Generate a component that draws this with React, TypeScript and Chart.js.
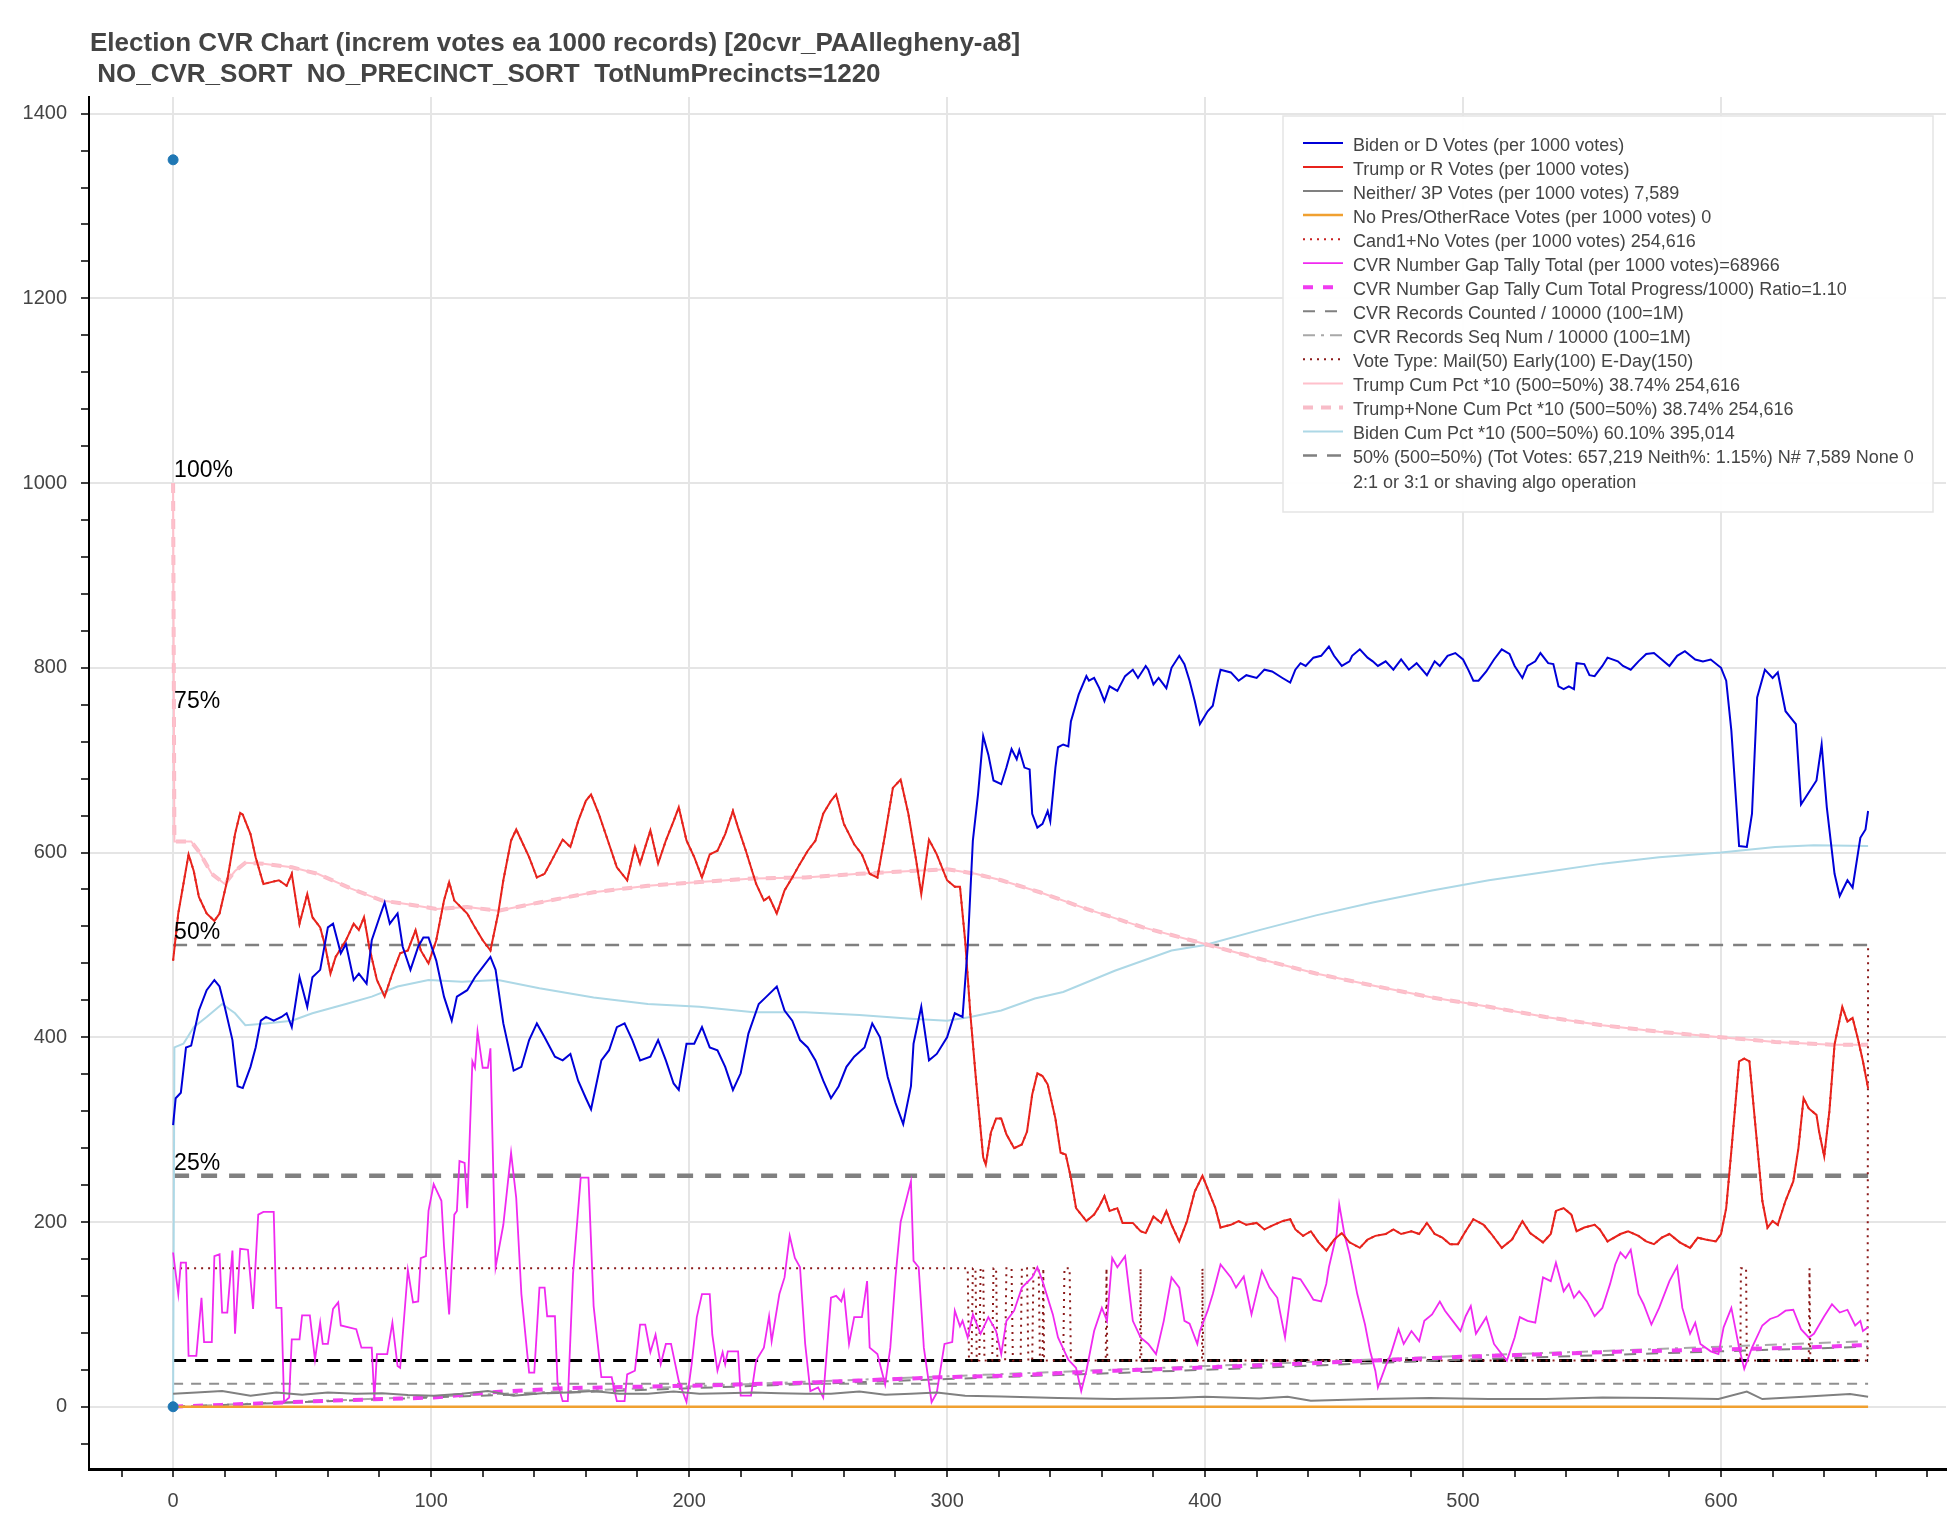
import React, { useEffect, useRef } from "react";
import Chart from "chart.js/auto";

type Pt = [number, number];

const titleLines = [
  "Election CVR Chart (increm votes ea 1000 records) [20cvr_PAAllegheny-a8]",
  " NO_CVR_SORT  NO_PRECINCT_SORT  TotNumPrecincts=1220",
];

const xMajorTicks = [0, 100, 200, 300, 400, 500, 600];
const yMajorTicks = [0, 200, 400, 600, 800, 1000, 1200, 1400];
const xMinorStep = 20;
const yMinorStep = 40;

const pctMarks: [string, number][] = [
  ["100%", 1000],
  ["75%", 750],
  ["50%", 500],
  ["25%", 250],
];

// blue dots at x=0
const algoDots: Pt[] = [
  [0, 1350],
  [0, 0],
];

const bidenVotes: Pt[] = [
  [0, 305], [1, 334], [3, 340], [5, 389], [7, 391], [10, 429], [13, 451], [16, 462], [18, 455], [20, 433],
  [23, 397], [25, 347], [27, 345], [30, 368], [32, 389], [34, 418], [36, 422], [39, 418], [42, 422], [44, 426],
  [46, 411], [49, 465], [52, 433], [54, 465], [57, 473], [60, 519], [62, 523], [65, 491], [67, 501], [70, 462],
  [72, 469], [75, 458], [77, 505], [80, 530], [82, 546], [84, 523], [87, 534], [89, 498], [92, 473], [95, 498],
  [97, 508], [99, 508], [102, 483], [105, 444], [108, 418], [110, 444], [114, 451], [117, 465], [120, 476], [123, 487],
  [125, 473], [128, 415], [132, 364], [135, 368], [138, 397], [141, 415], [144, 400], [148, 379], [151, 375], [154, 382],
  [157, 353], [160, 334], [162, 322], [166, 375], [169, 386], [172, 411], [175, 415], [178, 397], [181, 375], [185, 379],
  [188, 397], [191, 375], [194, 350], [196, 343], [199, 393], [202, 393], [205, 411], [208, 389], [211, 386], [214, 368],
  [217, 343], [220, 361], [223, 404], [227, 436], [230, 444], [234, 455], [237, 429], [240, 418], [243, 397], [246, 389],
  [249, 375], [252, 353], [255, 334], [258, 347], [261, 368], [264, 379], [268, 389], [271, 415], [274, 400], [277, 357],
  [280, 329], [283, 306], [286, 347], [287, 393], [290, 433], [293, 375], [296, 382], [300, 400], [303, 426], [306, 422],
  [308, 498], [310, 613], [312, 663], [314, 726], [316, 706], [318, 678], [321, 674], [323, 692], [325, 712], [327, 701],
  [328, 711], [330, 692], [332, 690], [333, 642], [335, 627], [337, 631], [339, 645], [340, 634], [342, 692], [343, 714],
  [345, 717], [347, 715], [348, 742], [351, 771], [354, 791], [355, 786], [357, 789], [359, 778], [361, 764], [363, 780],
  [366, 775], [369, 791], [372, 798], [374, 789], [377, 802], [378, 798], [380, 782], [382, 789], [385, 778], [387, 800],
  [390, 813], [392, 804], [394, 786], [396, 764], [398, 739], [401, 753], [403, 759], [405, 786], [406, 798], [410, 795],
  [413, 786], [416, 792], [420, 789], [423, 798], [426, 796], [430, 789], [433, 784], [435, 798], [437, 805], [439, 802],
  [442, 811], [445, 813], [448, 823], [450, 813], [453, 802], [456, 807], [457, 813], [460, 820], [463, 811], [465, 807],
  [467, 802], [470, 807], [473, 798], [476, 809], [479, 798], [482, 805], [486, 792], [489, 807], [491, 802], [494, 813],
  [497, 816], [500, 809], [502, 798], [504, 786], [506, 786], [509, 796], [512, 809], [515, 820], [518, 815], [520, 802],
  [523, 789], [525, 802], [528, 807], [530, 816], [533, 805], [535, 804], [537, 780], [539, 777], [541, 780], [543, 777],
  [544, 805], [547, 804], [549, 792], [551, 791], [554, 802], [556, 811], [560, 807], [562, 802], [565, 798], [568, 807],
  [571, 815], [574, 816], [577, 809], [580, 802], [583, 813], [586, 818], [590, 809], [593, 807], [596, 809], [600, 800],
  [602, 786], [604, 732], [606, 649], [607, 607], [610, 606], [612, 642], [614, 768], [617, 798], [620, 789], [622, 795],
  [625, 753], [629, 739], [631, 652], [634, 665], [637, 678], [639, 717], [641, 649], [644, 577], [646, 553], [649, 570],
  [651, 562], [654, 616], [656, 625], [657, 645],
];

const trumpVotes: Pt[] = [
  [0, 483], [2, 534], [6, 598], [8, 580], [10, 552], [13, 534], [16, 526], [18, 534], [21, 570], [24, 620],
  [26, 643], [27, 641], [30, 620], [32, 595], [35, 566], [38, 568], [41, 570], [44, 564], [46, 577], [49, 523],
  [52, 555], [54, 530], [57, 519], [59, 498], [61, 469], [63, 487], [67, 505], [70, 523], [72, 516], [74, 530],
  [76, 498], [79, 462], [82, 444], [85, 469], [88, 491], [91, 494], [94, 516], [96, 494], [99, 480], [102, 505],
  [105, 548], [107, 568], [109, 548], [114, 534], [117, 519], [120, 505], [123, 494], [126, 534], [128, 570], [131, 613],
  [133, 625], [135, 613], [138, 595], [141, 573], [144, 577], [148, 598], [151, 614], [154, 606], [157, 634], [160, 656],
  [162, 663], [165, 642], [169, 609], [172, 584], [176, 570], [179, 606], [181, 588], [185, 624], [188, 588], [191, 613],
  [194, 634], [196, 649], [199, 613], [202, 595], [205, 573], [208, 598], [211, 602], [214, 620], [217, 645], [219, 627],
  [222, 602], [226, 566], [229, 548], [231, 552], [234, 534], [237, 559], [240, 573], [243, 588], [246, 602], [249, 613],
  [252, 642], [255, 656], [257, 663], [260, 631], [264, 609], [267, 598], [270, 577], [273, 573], [276, 620], [279, 670],
  [282, 679], [285, 642], [288, 592], [290, 555], [293, 614], [296, 598], [300, 570], [303, 563], [305, 563], [307, 505],
  [309, 426], [311, 361], [312, 330], [314, 270], [315, 262], [317, 297], [319, 312], [321, 312], [323, 295], [326, 280],
  [329, 284], [331, 298], [333, 338], [335, 361], [337, 358], [339, 349], [342, 312], [344, 275], [346, 273], [348, 248],
  [350, 215], [354, 201], [357, 208], [359, 217], [361, 228], [363, 212], [366, 215], [368, 199], [372, 199], [375, 190],
  [377, 188], [380, 206], [383, 199], [385, 212], [387, 197], [390, 179], [393, 201], [396, 233], [399, 250], [402, 229],
  [404, 215], [406, 194], [410, 197], [413, 201], [416, 197], [420, 199], [423, 192], [426, 196], [430, 201], [433, 203],
  [435, 192], [438, 185], [441, 190], [444, 178], [447, 169], [450, 181], [453, 188], [456, 178], [460, 172], [463, 181],
  [466, 185], [470, 187], [473, 192], [476, 187], [480, 190], [483, 187], [486, 199], [489, 187], [492, 183], [495, 176],
  [498, 176], [501, 190], [504, 203], [508, 197], [511, 187], [515, 172], [519, 181], [523, 201], [526, 188], [531, 178],
  [534, 187], [536, 212], [539, 215], [542, 208], [544, 190], [547, 194], [551, 197], [553, 192], [556, 179], [561, 187],
  [564, 190], [568, 185], [571, 179], [574, 176], [577, 183], [580, 187], [584, 178], [588, 172], [591, 183], [594, 181],
  [598, 179], [600, 187], [602, 215], [604, 277], [607, 374], [609, 377], [611, 374], [614, 284], [616, 223], [618, 194],
  [620, 201], [622, 197], [625, 223], [628, 244], [630, 280], [632, 334], [634, 323], [637, 316], [638, 298], [640, 271],
  [642, 320], [644, 392], [647, 433], [649, 417], [651, 421], [653, 399], [655, 374], [657, 345],
];

const neitherVotes: Pt[] = [
  [0, 14], [9, 15.5], [19, 17], [30, 12], [40, 15.5], [50, 13], [60, 15.5], [71, 14], [81, 14.5], [91, 12.6],
  [101, 12], [112, 14], [122, 17], [132, 12], [143, 14.5], [153, 15.5], [163, 17], [173, 14], [184, 14], [194, 16.5],
  [204, 14], [214, 14.5], [225, 15.5], [235, 14.5], [245, 14], [255, 14], [266, 16.5], [276, 13], [286, 14], [296, 15.5],
  [307, 12], [321, 11], [343, 9.4], [365, 8.3], [387, 9.4], [400, 10.8], [421, 9], [432, 10.8], [441, 6.5], [465, 8.3],
  [487, 9.4], [510, 8.3], [532, 8.3], [554, 10], [576, 9.4], [599, 8.3], [610, 16.5], [616, 8.3], [632, 10.8], [650, 13.7],
  [657, 10.8],
];

const noPresVotes: Pt[] = [
  [0, 0],
  [657, 0],
];

const gapTally: Pt[] = [
  [0, 167], [2, 122], [3, 156], [5, 156], [6, 55], [9, 55], [11, 118], [12, 70], [15, 70], [16, 163],
  [18, 165], [19, 102], [21, 102], [23, 169], [24, 79], [26, 171], [29, 170], [31, 106], [33, 208], [35, 211],
  [39, 211], [40, 107], [42, 107], [43, 5], [45, 10], [46, 73], [49, 73], [50, 99], [53, 99], [55, 51],
  [57, 91], [58, 68], [60, 68], [62, 106], [64, 113], [65, 88], [71, 84], [73, 64], [77, 64], [78, 8],
  [79, 57], [83, 57], [85, 91], [87, 44], [88, 42], [91, 148], [93, 113], [95, 114], [96, 161], [98, 163],
  [99, 212], [101, 241], [104, 223], [105, 174], [107, 100], [109, 208], [110, 212], [111, 266], [113, 264], [114, 215],
  [116, 374], [117, 367], [118, 406], [120, 367], [122, 367], [123, 388], [124, 266], [125, 151], [128, 197], [131, 275],
  [133, 226], [135, 122], [138, 37], [140, 37], [142, 129], [144, 129], [145, 98], [148, 98], [149, 26], [151, 6],
  [153, 6], [155, 143], [158, 248], [161, 248], [163, 109], [166, 32], [170, 32], [172, 6], [175, 6], [176, 35],
  [179, 39], [181, 89], [183, 89], [185, 59], [187, 78], [189, 46], [191, 68], [193, 68], [196, 28], [199, 5],
  [201, 46], [203, 97], [205, 122], [208, 122], [209, 78], [211, 39], [213, 59], [214, 46], [215, 60], [219, 60],
  [220, 12], [224, 12], [226, 50], [229, 64], [231, 98], [232, 71], [235, 122], [237, 140], [239, 185], [241, 161],
  [243, 151], [245, 68], [247, 17], [250, 21], [252, 10], [255, 118], [257, 120], [259, 114], [260, 124], [262, 68],
  [264, 97], [267, 97], [269, 136], [270, 64], [273, 57], [276, 24], [278, 64], [280, 140], [282, 200], [286, 244],
  [287, 158], [289, 151], [291, 64], [294, 5], [296, 15], [299, 68], [302, 70], [303, 104], [305, 87], [306, 93],
  [308, 75], [310, 100], [313, 79], [316, 97], [319, 82], [321, 57], [323, 93], [326, 104], [329, 129], [333, 140],
  [335, 151], [337, 136], [341, 100], [343, 75], [346, 57], [347, 51], [350, 42], [352, 17], [354, 39], [357, 82],
  [360, 107], [362, 93], [364, 161], [366, 151], [369, 163], [372, 93], [375, 75], [378, 68], [381, 57], [384, 93],
  [387, 140], [390, 129], [392, 93], [394, 90], [397, 68], [398, 82], [401, 104], [403, 122], [406, 154], [410, 140],
  [412, 129], [415, 141], [418, 100], [422, 147], [425, 129], [428, 118], [431, 75], [434, 140], [437, 138], [440, 125],
  [442, 116], [445, 114], [447, 133], [448, 151], [451, 187], [452, 219], [454, 187], [456, 165], [459, 122], [462, 89],
  [464, 60], [466, 39], [467, 21], [470, 44], [472, 57], [475, 84], [477, 68], [480, 82], [483, 71], [485, 93],
  [488, 100], [491, 114], [493, 104], [496, 93], [499, 82], [501, 98], [503, 109], [505, 79], [509, 97], [512, 68],
  [515, 57], [517, 50], [520, 75], [522, 97], [525, 93], [528, 91], [531, 140], [534, 136], [536, 156], [539, 125],
  [541, 133], [543, 118], [545, 125], [548, 114], [551, 98], [554, 107], [557, 133], [559, 154], [561, 167], [563, 161],
  [565, 170], [568, 122], [570, 111], [573, 89], [576, 107], [580, 136], [583, 152], [585, 107], [588, 79], [590, 91],
  [592, 68], [596, 60], [599, 57], [601, 86], [604, 107], [607, 64], [609, 41], [612, 64], [616, 88], [619, 95],
  [622, 98], [625, 104], [628, 105], [631, 84], [634, 75], [636, 79], [640, 98], [643, 111], [646, 102], [649, 105],
  [652, 88], [654, 93], [655, 82], [657, 86],
];

const gapTallyCum: Pt[] = [
  [0, 0], [19, 2], [60, 6.5], [101, 10], [122, 15.5], [151, 20], [204, 23], [245, 26], [298, 32], [321, 33.5],
  [365, 39], [400, 42.5], [432, 46], [465, 50], [499, 54], [532, 57], [565, 60], [599, 62], [632, 64], [657, 67],
];

const recordsCounted: Pt[] = [
  [0, 0], [100, 10], [200, 20], [300, 30], [400, 40], [500, 51], [600, 60], [657, 65],
];

const recordsSeqNum: Pt[] = [
  [0, 0], [100, 11], [200, 22], [300, 33], [400, 44], [500, 55], [600, 65], [657, 71],
];

const voteType: Pt[] = [
  [0, 150], [308, 150], [308.5, 50], [309.5, 50], [310, 150], [311, 150], [311.5, 50], [312.5, 50], [313, 150], [314, 150],
  [314.5, 50], [317.5, 50], [318, 150], [319, 150], [319.5, 50], [322.5, 50], [323, 150], [325, 150], [325.5, 50], [328.5, 50],
  [329, 150], [331, 150], [331.5, 50], [333, 50], [333.5, 150], [335.5, 150], [336, 50], [337, 50], [337.3, 150], [337.6, 50],
  [345, 50], [345.5, 150], [347.5, 150], [348, 50], [361.5, 50], [361.8, 150], [362.1, 50], [374.8, 50], [375, 150], [375.3, 50],
  [398.8, 50], [399, 150], [399.3, 50], [607.5, 50], [607.7, 150], [609.7, 150], [610, 50], [634, 50], [634.3, 150], [634.6, 50],
  [656.8, 50], [657, 500],
];

const trumpCumPct: Pt[] = [
  [0, 1000], [0.5, 612], [7, 612], [10, 601], [15, 577], [20, 566], [24, 580], [28, 589], [35, 588], [46, 584],
  [56, 577], [69, 561], [81, 548], [91, 544], [102, 539], [114, 541], [126, 537], [142, 546], [163, 557], [184, 564],
  [204, 568], [225, 572], [245, 573], [266, 577], [286, 580], [300, 582], [311, 577], [321, 570], [336, 557], [354, 539],
  [376, 519], [400, 501], [421, 485], [443, 469], [465, 456], [488, 443], [510, 433], [532, 422], [554, 413], [576, 406],
  [600, 400], [621, 395], [643, 392], [657, 392],
];

const bidenCumPct: Pt[] = [
  [0, 0], [0.5, 389], [4, 393], [8, 411], [13, 422], [19, 436], [24, 426], [28, 413], [36, 415], [46, 418],
  [54, 426], [67, 436], [77, 444], [87, 455], [99, 462], [112, 460], [126, 462], [142, 453], [163, 443], [184, 436],
  [204, 433], [225, 427], [245, 427], [266, 424], [286, 420], [300, 418], [309, 422], [321, 429], [334, 442], [345, 449],
  [365, 472], [387, 494], [400, 500], [421, 516], [443, 532], [465, 546], [488, 559], [510, 570], [532, 579], [554, 588],
  [576, 595], [600, 600], [621, 606], [636, 608], [657, 607],
];

const fiftyPctLine: Pt[] = [[0, 500], [657, 500]];
const quarterLine: Pt[] = [[0, 250], [657, 250]];
const fiftyVotesLine: Pt[] = [[0, 50], [657, 50]];
const twentyFiveLine: Pt[] = [[0, 25], [657, 25]];

const FONT = '"Liberation Sans", Arial, Helvetica, sans-serif';

const toXY = (pts: Pt[]) => pts.map(([x, y]) => ({ x, y }));

const lineSet = (label: string, pts: Pt[], color: string, width: number, dash: number[] = [], inLegend = true) => ({
  type: "line",
  label,
  data: toXY(pts),
  borderColor: color,
  backgroundColor: color,
  borderWidth: width,
  borderDash: dash,
  pointRadius: 0,
  tension: 0,
  fill: false,
  inLegend,
});

const titlePlugin = {
  id: "cvrTitle",
  afterDraw(chart: any) {
    const ctx = chart.ctx;
    ctx.save();
    ctx.fillStyle = "#444";
    ctx.font = `bold 26px ${FONT}`;
    ctx.textBaseline = "alphabetic";
    ctx.fillText(titleLines[0], 90, 51);
    ctx.fillText(titleLines[1], 90, 82);
    ctx.restore();
  },
};

const pctPlugin = {
  id: "pctMarks",
  afterDatasetsDraw(chart: any) {
    const { ctx, scales } = chart;
    ctx.save();
    ctx.fillStyle = "#000";
    ctx.font = `23px ${FONT}`;
    ctx.textBaseline = "alphabetic";
    pctMarks.forEach(([txt, v]) => {
      ctx.fillText(txt, scales.x.getPixelForValue(0) + 1, scales.y.getPixelForValue(v) - 6);
    });
    ctx.restore();
  },
};

const legendPlugin = {
  id: "boxLegend",
  afterDraw(chart: any) {
    const ctx = chart.ctx;
    const area = chart.chartArea;
    const items = chart.data.datasets.filter((d: any) => d.inLegend);
    const x0 = chart.width - 669;
    const y0 = area.top + 19;
    const w = 650;
    const h = 396;
    ctx.save();
    ctx.fillStyle = "rgba(255,255,255,0.95)";
    ctx.fillRect(x0, y0, w, h);
    ctx.strokeStyle = "#e5e5e5";
    ctx.lineWidth = 1.5;
    ctx.strokeRect(x0, y0, w, h);
    items.forEach((d: any, i: number) => {
      const y = y0 + 30 + i * 24.04;
      if (d.legendLine !== false) {
        ctx.beginPath();
        ctx.setLineDash(d.borderDash || []);
        ctx.strokeStyle = d.borderColor;
        ctx.lineWidth = Math.min(d.borderWidth, 4);
        ctx.moveTo(x0 + 20, y - 3);
        ctx.lineTo(x0 + 60, y - 3);
        ctx.stroke();
      }
      ctx.setLineDash([]);
      ctx.fillStyle = "#444";
      ctx.font = `18px ${FONT}`;
      ctx.textBaseline = "middle";
      ctx.fillText(d.label, x0 + 70, y);
    });
    ctx.restore();
  },
};

const xTicks: number[] = [];
for (let v = -20; v <= 680; v += xMinorStep) xTicks.push(v);
const yTicks: number[] = [];
for (let v = -40; v <= 1400; v += yMinorStep) yTicks.push(v);

const CvrChart = () => {
  const canvasEl = useRef<HTMLCanvasElement>(null);

  useEffect(() => {
    document.body.style.margin = "0";
    document.body.style.background = "#fff";
    const ctx = canvasEl.current!.getContext("2d")!;

    const datasets: any[] = [
      {
        type: "line",
        label: "",
        data: toXY(algoDots),
        showLine: false,
        pointRadius: 5,
        pointBackgroundColor: "#1f77b4",
        pointBorderColor: "#1f77b4",
        borderColor: "#1f77b4",
        inLegend: false,
      },
      lineSet("Biden or D Votes (per 1000 votes)", bidenVotes, "#0000d8", 2),
      lineSet("Trump or R Votes (per 1000 votes)", trumpVotes, "#e8231c", 2),
      lineSet("Neither/ 3P Votes (per 1000 votes) 7,589", neitherVotes, "#808080", 2),
      lineSet("No Pres/OtherRace Votes (per 1000 votes) 0", noPresVotes, "#f0a030", 2.5),
      lineSet("Cand1+No Votes (per 1000 votes) 254,616", trumpVotes, "#c82020", 2, [2, 5]),
      lineSet("CVR Number Gap Tally Total (per 1000 votes)=68966", gapTally, "#f02af0", 1.8),
      lineSet("CVR Number Gap Tally Cum Total Progress/1000) Ratio=1.10", gapTallyCum, "#f03cf0", 4, [10, 10]),
      lineSet("CVR Records Counted / 10000 (100=1M)", recordsCounted, "#808080", 2, [12, 10]),
      lineSet("CVR Records Seq Num / 10000 (100=1M)", recordsSeqNum, "#a8a8a8", 2, [12, 6, 3, 6]),
      lineSet("Vote Type: Mail(50) Early(100) E-Day(150)", voteType, "#8b1a1a", 2, [2, 5]),
      lineSet("Trump Cum Pct *10 (500=50%) 38.74% 254,616", trumpCumPct, "#ffc0cb", 2),
      lineSet("Trump+None Cum Pct *10 (500=50%) 38.74% 254,616", trumpCumPct, "#f8bcc8", 4, [10, 8]),
      lineSet("Biden Cum Pct *10 (500=50%) 60.10% 395,014", bidenCumPct, "#add8e6", 2),
      lineSet("50% (500=50%) (Tot Votes: 657,219 Neith%: 1.15%) N# 7,589 None 0", fiftyPctLine, "#808080", 2.5, [14, 10]),
      { ...lineSet("2:1 or 3:1 or shaving algo operation", [], "rgba(0,0,0,0)", 0), legendLine: false },
      lineSet("", quarterLine, "#808080", 4.5, [16, 12], false),
      lineSet("", fiftyVotesLine, "#000000", 3, [13, 9], false),
      lineSet("", twentyFiveLine, "#909090", 2, [10, 8], false),
    ];

    const isMajor = (vals: number[]) => (c: any) =>
      c.tick && vals.includes(c.tick.value) ? "#e5e5e5" : "rgba(0,0,0,0)";

    const chart = new Chart(ctx, {
      type: "line",
      data: { datasets },
      options: {
        animation: false,
        responsive: true,
        maintainAspectRatio: false,
        layout: { padding: { top: 97, left: 0, right: 0, bottom: 0 } },
        plugins: {
          legend: { display: false },
          title: { display: false },
          tooltip: { enabled: false },
        },
        font: { family: FONT },
        scales: {
          x: {
            type: "linear",
            min: -32.6,
            max: 687.2,
            bounds: "data",
            afterBuildTicks: (s: any) => {
              s.ticks = xTicks.map((v) => ({ value: v }));
            },
            afterFit: (s: any) => {
              s.height = 46;
            },
            grid: {
              color: isMajor(xMajorTicks),
              lineWidth: 2,
              tickColor: "#000",
              tickLength: 8,
              tickWidth: 1.5,
            },
            border: { color: "#000", width: 3 },
            ticks: {
              autoSkip: false,
              maxRotation: 0,
              padding: 12,
              color: "#444",
              font: { size: 20, family: FONT },
              callback: (v: any) => (xMajorTicks.includes(v) ? String(v) : ""),
            },
          },
          y: {
            type: "linear",
            min: -67.4,
            max: 1418,
            bounds: "data",
            afterBuildTicks: (s: any) => {
              s.ticks = yTicks.map((v) => ({ value: v }));
            },
            afterFit: (s: any) => {
              s.width = 89;
            },
            grid: {
              color: isMajor(yMajorTicks),
              lineWidth: 2,
              tickColor: "#000",
              tickLength: 8,
              tickWidth: 1.5,
            },
            border: { color: "#000", width: 2 },
            ticks: {
              autoSkip: false,
              padding: 14,
              color: "#444",
              font: { size: 20, family: FONT },
              callback: (v: any) => (yMajorTicks.includes(v) ? String(v) : ""),
            },
          },
        },
      },
      plugins: [pctPlugin, titlePlugin, legendPlugin],
    } as any);

    return () => {
      chart.destroy();
    };
  }, []);

  return (
    <div style={{ position: "absolute", left: 0, top: 0, width: 1952, height: 1515, background: "#fff" }}>
      <canvas ref={canvasEl}></canvas>
    </div>
  );
};

export default function App() {
  return <CvrChart />;
}
